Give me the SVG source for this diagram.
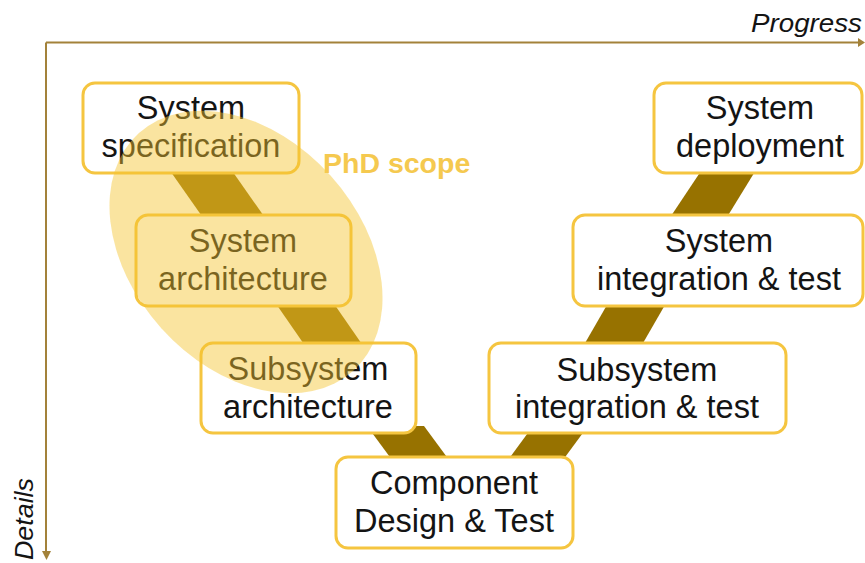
<svg xmlns="http://www.w3.org/2000/svg" width="865" height="563" viewBox="0 0 865 563">
<style>
.box{fill:#ffffff;stroke:#f5c540;stroke-width:3}
.lbl{font-family:"Liberation Sans",Arial,sans-serif;font-size:32.5px;fill:#141414;text-anchor:middle}
.band{fill:#977200}
.axis{stroke:#a3823a;stroke-width:2;fill:none}
.axlbl{font-family:"Liberation Sans",Arial,sans-serif;font-size:25px;font-style:italic;fill:#141414}
</style>
<rect width="865" height="563" fill="#ffffff"/>
<g id="connectors">
<polygon class="band" points="166,165 228,165 268,222 206,222"/>
<polygon class="band" points="272,298 330,298 366,350 308,350"/>
<polygon class="band" points="367,426 424,426 452,464 395,464"/>
<polygon class="band" points="505,464 560,464 588,426 533,426"/>
<polygon class="band" points="581,350 639,350 669,298 611,298"/>
<polygon class="band" points="667,222 724,222 759,165 705,165"/>
</g>
<g id="spec"><rect class="box" x="83" y="83" width="216" height="90" rx="12"/><text class="lbl" x="191" y="119">System</text><text class="lbl" x="191" y="157">specification</text></g>
<g id="arch"><rect class="box" x="136" y="215" width="215" height="91" rx="12"/><text class="lbl" x="243" y="252">System</text><text class="lbl" x="243" y="290">architecture</text></g>
<g id="subarch"><rect class="box" x="201" y="343" width="215" height="90" rx="12"/><text class="lbl" x="308" y="380">Subsystem</text><text class="lbl" x="308" y="418">architecture</text></g>
<g id="component"><rect class="box" x="336" y="457" width="237" height="91" rx="12"/><text class="lbl" x="454" y="494">Component</text><text class="lbl" x="454" y="532">Design &amp; Test</text></g>
<g id="subint"><rect class="box" x="489" y="343" width="297" height="90" rx="12"/><text class="lbl" x="637" y="381">Subsystem</text><text class="lbl" x="637" y="418">integration &amp; test</text></g>
<g id="sysint"><rect class="box" x="573" y="215" width="290" height="91" rx="12"/><text class="lbl" x="719" y="252">System</text><text class="lbl" x="719" y="290">integration &amp; test</text></g>
<g id="deploy"><rect class="box" x="654" y="83" width="208" height="90" rx="12"/><text class="lbl" x="760" y="119">System</text><text class="lbl" x="760" y="157">deployment</text></g>
<g id="scope">
<ellipse cx="246" cy="252" rx="160" ry="114" transform="rotate(48 246 252)" fill="#f4c431" fill-opacity="0.46"/>
<text x="323" y="173" font-family="'Liberation Sans',Arial,sans-serif" font-size="28.5" font-weight="bold" fill="#f5c94f">PhD scope</text>
</g>
<g id="axes">
<path class="axis" d="M46,42.5 H859 M46,42.5 V552"/>
<polygon points="858,38 865,42.5 858,47" fill="#a3823a"/>
<polygon points="42,551 51,551 46.5,560" fill="#a3823a"/>
<text class="axlbl" x="751" y="32" textLength="111" lengthAdjust="spacingAndGlyphs">Progress</text>
<text class="axlbl" transform="translate(33,560) rotate(-90)" textLength="82" lengthAdjust="spacingAndGlyphs">Details</text>
</g>
</svg>
